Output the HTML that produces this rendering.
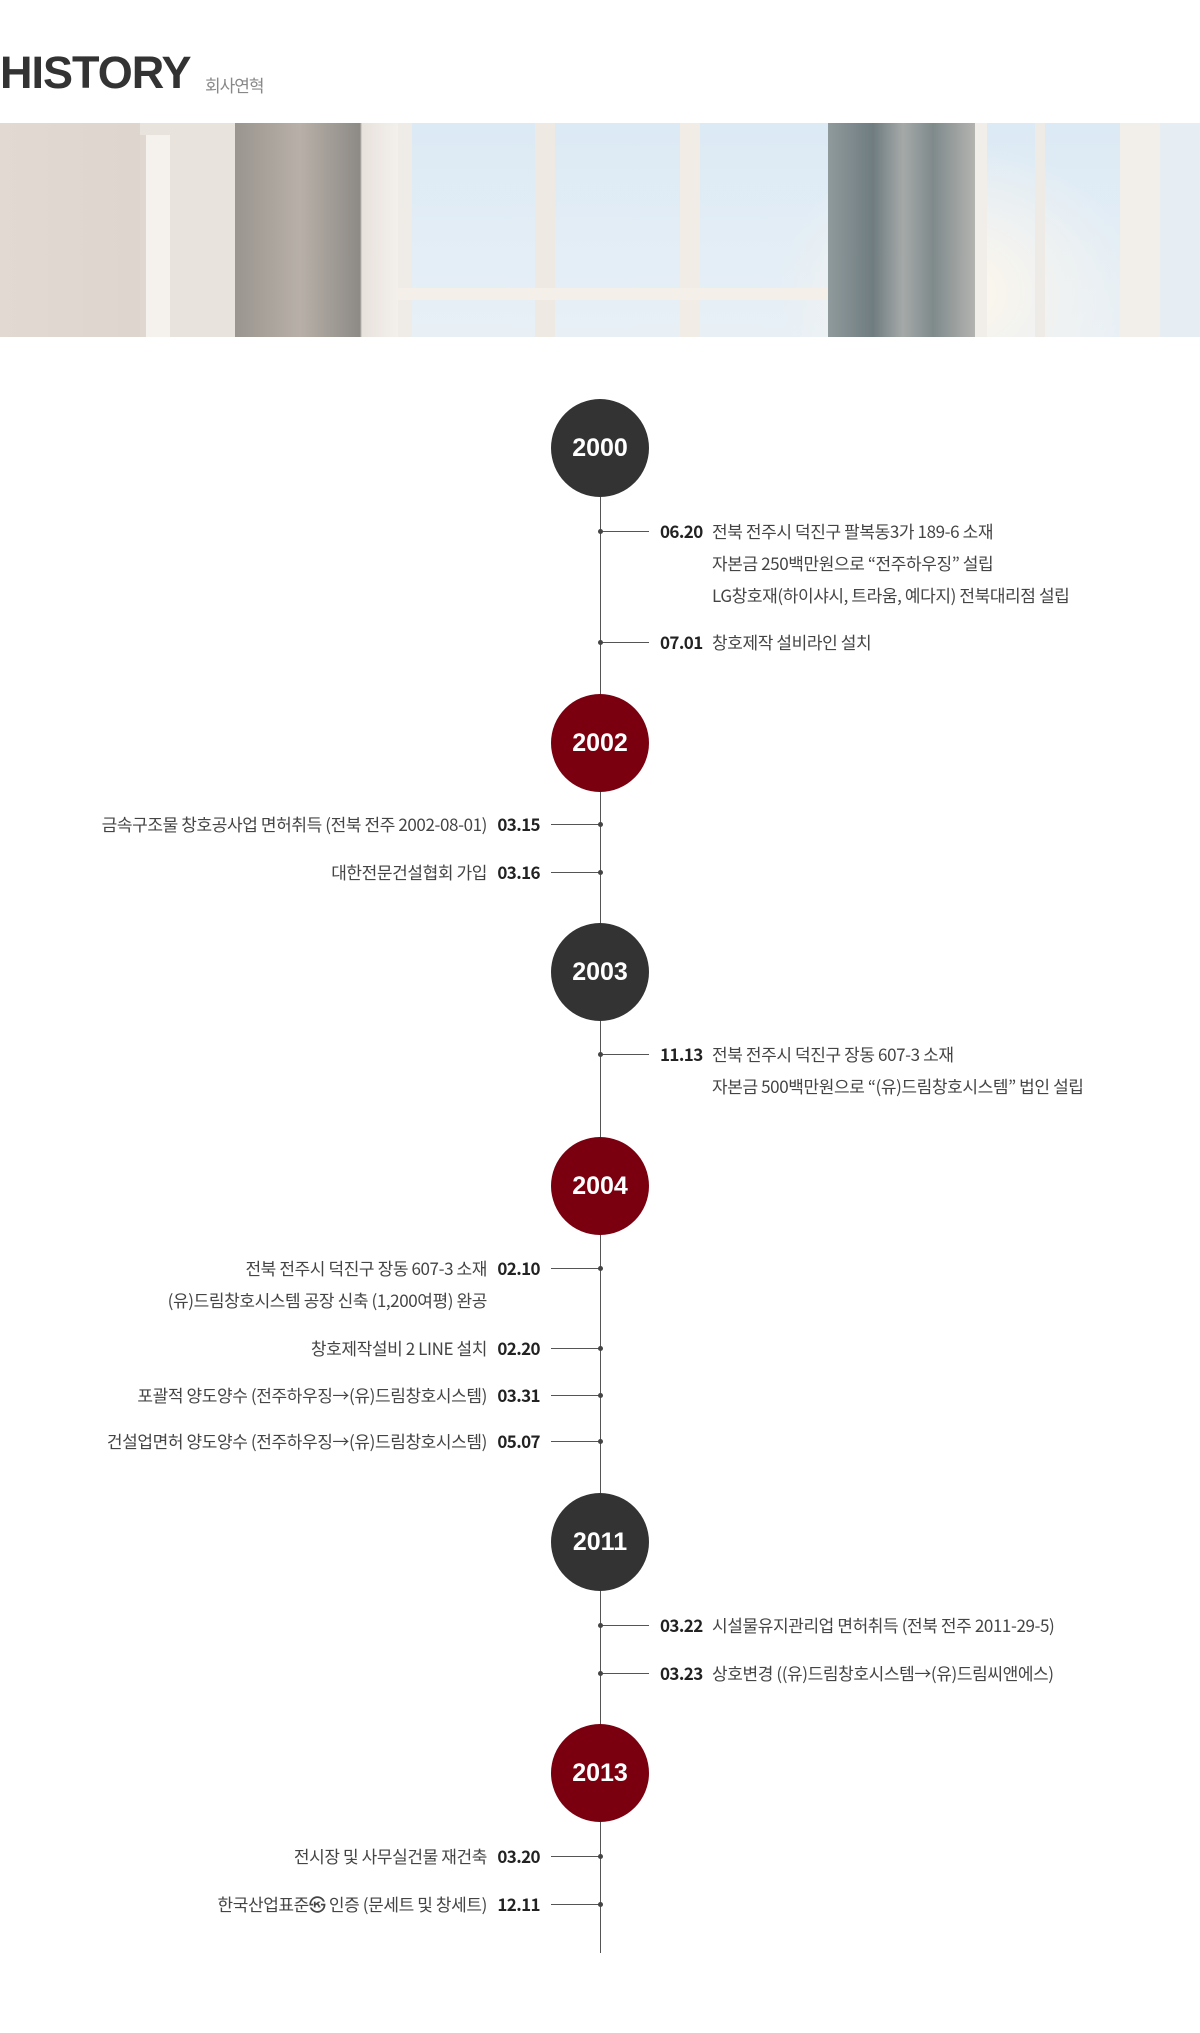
<!DOCTYPE html>
<html><head><meta charset="utf-8">
<style>
*{margin:0;padding:0;box-sizing:border-box}
body{width:1200px;height:2033px;background:#fff;position:relative;overflow:hidden;font-family:"Liberation Sans","Noto Sans CJK KR",sans-serif;color:#444}
.t{position:absolute;left:0;top:50px;font-size:45px;font-weight:bold;color:#333;letter-spacing:-1px;line-height:1}
.ts{position:absolute;left:205px;top:72px;font-size:17px;color:#888;font-family:"Noto Sans CJK KR",sans-serif;letter-spacing:-1px}
.ban{position:absolute;left:0;top:123px;width:1200px;height:214px;overflow:hidden;background:linear-gradient(90deg,#e2d9d2 0,#ded5ce 140px,#e9e3de 140px,#e9e3de 235px,#9a958f 235px,#b8b0a8 300px,#8d8a86 360px,#e8e2dc 362px,#f3f0ec 398px)}
.ban div{position:absolute}
.c{position:absolute;border-radius:50%;width:98px;height:98px;left:551px;color:#fff;font-weight:bold;font-size:25px;text-align:center;line-height:98px;font-family:"Liberation Sans",sans-serif}
.d{background:#333}.r{background:#7a0010}
.vl{position:absolute;left:599.5px;width:1px;background:#555;top:497px;height:1456px}
.tk{position:absolute;height:1px;background:#555;width:49px}
.dot{position:absolute;width:5px;height:5px;border-radius:50%;background:#444;left:598px}
.it{position:absolute;font-family:"Noto Sans CJK KR",sans-serif;font-size:17px;letter-spacing:-0.4px;line-height:20px;white-space:nowrap}
.dt{font-weight:bold;color:#222;letter-spacing:-0.6px}
</style></head><body>
<div class="t">HISTORY</div><div class="ts">회사연혁</div>
<div class="ban">
 <div style="left:398px;top:0;width:802px;height:214px;background:radial-gradient(ellipse 180px 150px at 560px 170px,#fff8ea 0,#f3f3f0 40%,rgba(220,235,245,0) 100%),linear-gradient(#dceaf5,#e8f0f6)"></div>
 <div style="left:398px;top:0;width:14px;height:214px;background:#efebe6"></div>
 <div style="left:535px;top:0;width:20px;height:214px;background:#efe9e3"></div>
 <div style="left:680px;top:0;width:20px;height:214px;background:#f1ece6"></div>
 <div style="left:398px;top:165px;width:430px;height:12px;background:#f4efe8"></div>
 <div style="left:828px;top:0;width:150px;height:214px;background:linear-gradient(90deg,#8f9a9c,#6f7c80 30%,#a5a9a8 50%,#7f8a8c 70%,#b7b6b2)"></div>
 <div style="left:975px;top:0;width:12px;height:214px;background:#f1ede8"></div>
 <div style="left:1035px;top:0;width:10px;height:214px;background:#eeeae5"></div>
 <div style="left:1120px;top:0;width:40px;height:214px;background:#f2eee9"></div>
 <div style="left:1160px;top:0;width:40px;height:214px;background:#e7eef3"></div>
 <div style="left:140px;top:12px;width:30px;height:202px;background:#f5f2ee;border-left:6px solid #e0d8d0"></div>
</div>

<div class="vl"></div>
<div class="c d" style="top:399px">2000</div>
<div class="c r" style="top:694px">2002</div>
<div class="c d" style="top:923px">2003</div>
<div class="c r" style="top:1137px">2004</div>
<div class="c d" style="top:1493px">2011</div>
<div class="c r" style="top:1724px">2013</div>

<div class="tk" style="left:600px;top:531px"></div><div class="dot" style="top:529px"></div>
<div class="it dt" style="left:660px;top:521px">06.20</div>
<div class="it" style="left:712px;top:521px">전북 전주시 덕진구 팔복동3가 189-6 소재</div>
<div class="it" style="left:712px;top:553px">자본금 250백만원으로 “전주하우징” 설립</div>
<div class="it" style="left:712px;top:585px">LG창호재(하이샤시, 트라움, 예다지) 전북대리점 설립</div>
<div class="tk" style="left:600px;top:642px"></div><div class="dot" style="top:640px"></div>
<div class="it dt" style="left:660px;top:632px">07.01</div>
<div class="it" style="left:712px;top:632px">창호제작 설비라인 설치</div>

<div class="tk" style="left:600px;top:1054px"></div><div class="dot" style="top:1052px"></div>
<div class="it dt" style="left:660px;top:1044px">11.13</div>
<div class="it" style="left:712px;top:1044px">전북 전주시 덕진구 장동 607-3 소재</div>
<div class="it" style="left:712px;top:1076px">자본금 500백만원으로 “(유)드림창호시스템” 법인 설립</div>

<div class="tk" style="left:600px;top:1625px"></div><div class="dot" style="top:1623px"></div>
<div class="it dt" style="left:660px;top:1615px">03.22</div>
<div class="it" style="left:712px;top:1615px">시설물유지관리업 면허취득 (전북 전주 2011-29-5)</div>
<div class="tk" style="left:600px;top:1673px"></div><div class="dot" style="top:1671px"></div>
<div class="it dt" style="left:660px;top:1663px">03.23</div>
<div class="it" style="left:712px;top:1663px">상호변경 ((유)드림창호시스템→(유)드림씨앤에스)</div>

<div class="tk" style="left:551px;top:824px"></div><div class="dot" style="top:822px"></div>
<div class="it dt" style="right:660px;top:814px">03.15</div>
<div class="it" style="right:713px;top:814px">금속구조물 창호공사업 면허취득 (전북 전주 2002-08-01)</div>
<div class="tk" style="left:551px;top:872px"></div><div class="dot" style="top:870px"></div>
<div class="it dt" style="right:660px;top:862px">03.16</div>
<div class="it" style="right:713px;top:862px">대한전문건설협회 가입</div>

<div class="tk" style="left:551px;top:1268px"></div><div class="dot" style="top:1266px"></div>
<div class="it dt" style="right:660px;top:1258px">02.10</div>
<div class="it" style="right:713px;top:1258px">전북 전주시 덕진구 장동 607-3 소재</div>
<div class="it" style="right:713px;top:1290px">(유)드림창호시스템 공장 신축 (1,200여평) 완공</div>
<div class="tk" style="left:551px;top:1348px"></div><div class="dot" style="top:1346px"></div>
<div class="it dt" style="right:660px;top:1338px">02.20</div>
<div class="it" style="right:713px;top:1338px">창호제작설비 2 LINE 설치</div>
<div class="tk" style="left:551px;top:1395px"></div><div class="dot" style="top:1393px"></div>
<div class="it dt" style="right:660px;top:1385px">03.31</div>
<div class="it" style="right:713px;top:1385px">포괄적 양도양수 (전주하우징→(유)드림창호시스템)</div>
<div class="tk" style="left:551px;top:1441px"></div><div class="dot" style="top:1439px"></div>
<div class="it dt" style="right:660px;top:1431px">05.07</div>
<div class="it" style="right:713px;top:1431px">건설업면허 양도양수 (전주하우징→(유)드림창호시스템)</div>

<div class="tk" style="left:551px;top:1856px"></div><div class="dot" style="top:1854px"></div>
<div class="it dt" style="right:660px;top:1846px">03.20</div>
<div class="it" style="right:713px;top:1846px">전시장 및 사무실건물 재건축</div>
<div class="tk" style="left:551px;top:1904px"></div><div class="dot" style="top:1902px"></div>
<div class="it dt" style="right:660px;top:1894px">12.11</div>
<div class="it" style="right:713px;top:1894px">한국산업표준㉿ 인증 (문세트 및 창세트)</div>
</body></html>
